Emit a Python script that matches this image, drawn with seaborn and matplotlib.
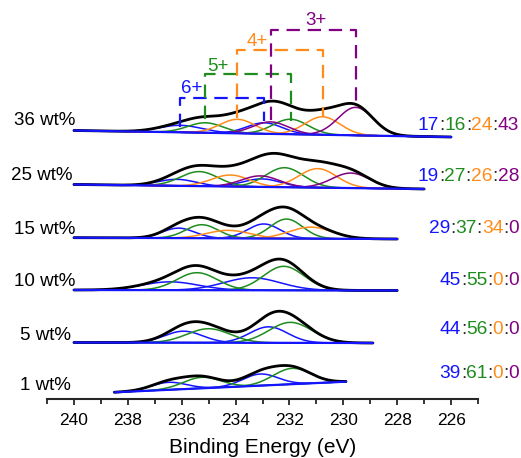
import numpy as np
import pandas as pd
import matplotlib
matplotlib.use("Agg")
import matplotlib.pyplot as plt
import seaborn as sns

sns.set_style("ticks")
plt.rcParams["font.family"] = ["Liberation Sans", "DejaVu Sans"]
plt.rcParams["text.color"] = "black"
plt.rcParams["xtick.color"] = "black"
plt.rcParams["axes.labelcolor"] = "black"

BLUE = "#1414FF"
GREEN = "#1E8C1E"
ORANGE = "#FF8C1A"
PURPLE = "#820082"
COLON = "#222222"

# ---------------- data ----------------
samples = ["36 wt%", "25 wt%", "15 wt%", "10 wt%", "5 wt%", "1 wt%"]
ratios = [["17", "16", "24", "43"],
          ["19", "27", "26", "28"],
          ["29", "37", "34", "0"],
          ["45", "55", "0", "0"],
          ["44", "56", "0", "0"],
          ["39", "61", "0", "0"]]

# energy range of each spectrum (eV) and linear background (stacked offset units)
energy_start = [240.0, 240.0, 240.0, 240.0, 240.0, 238.5]
energy_end = [226.0, 227.0, 228.0, 228.0, 228.9, 229.9]
baseline_start = [268.5, 214.5, 161.3, 109.0, 56.5, 6.7]
baseline_end = [262.0, 210.0, 160.0, 108.5, 56.0, 17.3]

# fitted doublets (3d3/2, 3d5/2): centre (eV), height, sigma (eV)
mo6_pos = [(236.05, 232.93), (236.18, 233.02), (236.12, 232.95), (236.43, 233.39), (235.93, 232.77), (236.49, 233.08)]
mo6_height = [(7.0, 11.0), (6.5, 8.0), (10.0, 14.5), (8.3, 12.5), (11.5, 16.0), (7.5, 11.6)]
mo6_sigma = [(0.80, 0.65), (0.70, 0.70), (0.60, 0.60), (1.05, 1.05), (0.70, 0.70), (0.65, 0.65)]

mo5_pos = [(235.12, 231.96), (235.35, 232.18), (235.25, 232.11), (235.43, 232.21), (235.00, 231.96), (235.25, 231.90)]
mo5_height = [(10.0, 15.0), (14.5, 19.5), (13.5, 19.5), (17.5, 24.0), (14.0, 20.5), (11.0, 15.8)]
mo5_sigma = [(0.65, 0.65), (0.70, 0.70), (0.60, 0.60), (0.75, 0.75), (0.80, 0.80), (0.70, 0.70)]

mo4_pos = [(233.93, 230.77), (234.19, 230.95), (234.27, 231.21), (0, 0), (0, 0), (0, 0)]
mo4_height = [(14.0, 18.0), (11.5, 19.0), (8.0, 11.5), (0, 0), (0, 0), (0, 0)]
mo4_sigma = [(0.65, 0.65), (0.70, 0.70), (0.80, 0.80), (1, 1), (1, 1), (1, 1)]

mo3_pos = [(232.70, 229.54), (233.08, 229.72), (0, 0), (0, 0), (0, 0), (0, 0)]
mo3_height = [(12.0, 28.0), (11.0, 15.0), (0, 0), (0, 0), (0, 0), (0, 0)]
mo3_sigma = [(0.65, 0.65), (0.70, 0.70), (1, 1), (1, 1), (1, 1), (1, 1)]

# oxidation-state brackets drawn over the 36 wt% spectrum
bracket_labels = ["6+", "5+", "4+", "3+"]
bracket_left = [236.05, 235.12, 233.93, 232.70]
bracket_right = [232.93, 231.96, 230.77, 229.54]
bracket_top = [301, 325, 349, 369]
bracket_left_bottom = [272, 280, 281, 279]
bracket_right_bottom = [278, 278, 282, 292]
bracket_label_x = [235.62, 234.64, 233.20, 231.03]
bracket_label_y = [310.7, 332.3, 357.3, 378.3]

# ---------------- figure ----------------
fig = plt.figure(figsize=(5.21, 4.58), dpi=100)
ax = fig.add_axes([47 / 521, 59 / 458, 431 / 521, 399 / 458])

states = [
    (mo6_pos, mo6_height, mo6_sigma, BLUE),
    (mo5_pos, mo5_height, mo5_sigma, GREEN),
    (mo4_pos, mo4_height, mo4_sigma, ORANGE),
    (mo3_pos, mo3_height, mo3_sigma, PURPLE),
]

for i, name in enumerate(samples):
    E = np.linspace(energy_start[i], energy_end[i], 500)
    base = baseline_start[i] + (baseline_end[i] - baseline_start[i]) * (
        (E - energy_start[i]) / (energy_end[i] - energy_start[i]))
    total = base.copy()
    for pos, hei, sig, col in states:
        for c, h, s in zip(pos[i], hei[i], sig[i]):
            if h <= 0:
                continue
            comp = h * np.exp(-0.5 * ((E - c) / s) ** 2)
            total += comp
            sns.lineplot(x=E, y=base + comp, color=col, lw=1.1, ax=ax, sort=False)
    sns.lineplot(x=E, y=total, color="black", lw=2.0, ax=ax, sort=False)
    sns.lineplot(x=E, y=base, color=BLUE, lw=1.6, ax=ax, sort=False)

# sample labels
label_y = [278.5, 223.5, 169.0, 117.3, 64.0, 13.0]
label_x = [239.96, 240.05, 239.96, 239.96, 240.1, 240.1]
for name, lx, ly in zip(samples, label_x, label_y):
    ax.text(lx, ly, name, ha="right", va="center", fontsize=13.5, clip_on=False)

# ratio labels (multi-coloured)
ratio_y = [274, 222.3, 170.7, 118.3, 69, 26]
ratio_x = 223.47
ratio_colors = [BLUE, COLON, GREEN, COLON, ORANGE, COLON, PURPLE]
for parts, ry in zip(ratios, ratio_y):
    pieces = [parts[0], ":", parts[1], ":", parts[2], ":", parts[3]]
    prev = ax.text(ratio_x, ry, pieces[-1], color=ratio_colors[-1], ha="right",
                   va="center", fontsize=13.8, clip_on=False)
    for s, col in zip(pieces[-2::-1], ratio_colors[-2::-1]):
        prev = ax.annotate(s, xy=(0, 0), xycoords=prev, ha="right", va="bottom",
                           color=col, fontsize=13.8, annotation_clip=False)

# brackets
for lab, xl, xr, yt, ylb, yrb, lx, ly, col in zip(
        bracket_labels, bracket_left, bracket_right, bracket_top,
        bracket_left_bottom, bracket_right_bottom, bracket_label_x,
        bracket_label_y, [BLUE, GREEN, ORANGE, PURPLE]):
    ax.plot([xl, xl, xr, xr], [ylb, yt, yt, yrb], color=col, lw=1.6,
            dashes=(6, 3.5), clip_on=False)
    ax.text(lx, ly, lab, color=col, ha="center", va="center",
            fontsize=13.5, clip_on=False)

# axes styling
ax.set_xlim(241, 225)
ax.set_ylim(0, 399)
ax.set_yticks([])
ax.set_ylabel("")
for side in ["left", "top", "right"]:
    ax.spines[side].set_visible(False)
ax.spines["bottom"].set_linewidth(1.5)
ax.set_xticks(np.arange(226, 241, 2))
ax.set_xticks(np.arange(225, 242, 1), minor=True)
ax.tick_params(axis="x", which="major", direction="out", length=4, width=1.1,
               labelsize=12.5, pad=6)
ax.tick_params(axis="x", which="minor", direction="out", length=3.5, width=1.1)
ax.set_xlabel("Binding Energy (eV)", fontsize=15, labelpad=7)

fig.savefig("out.png", dpi=100)
